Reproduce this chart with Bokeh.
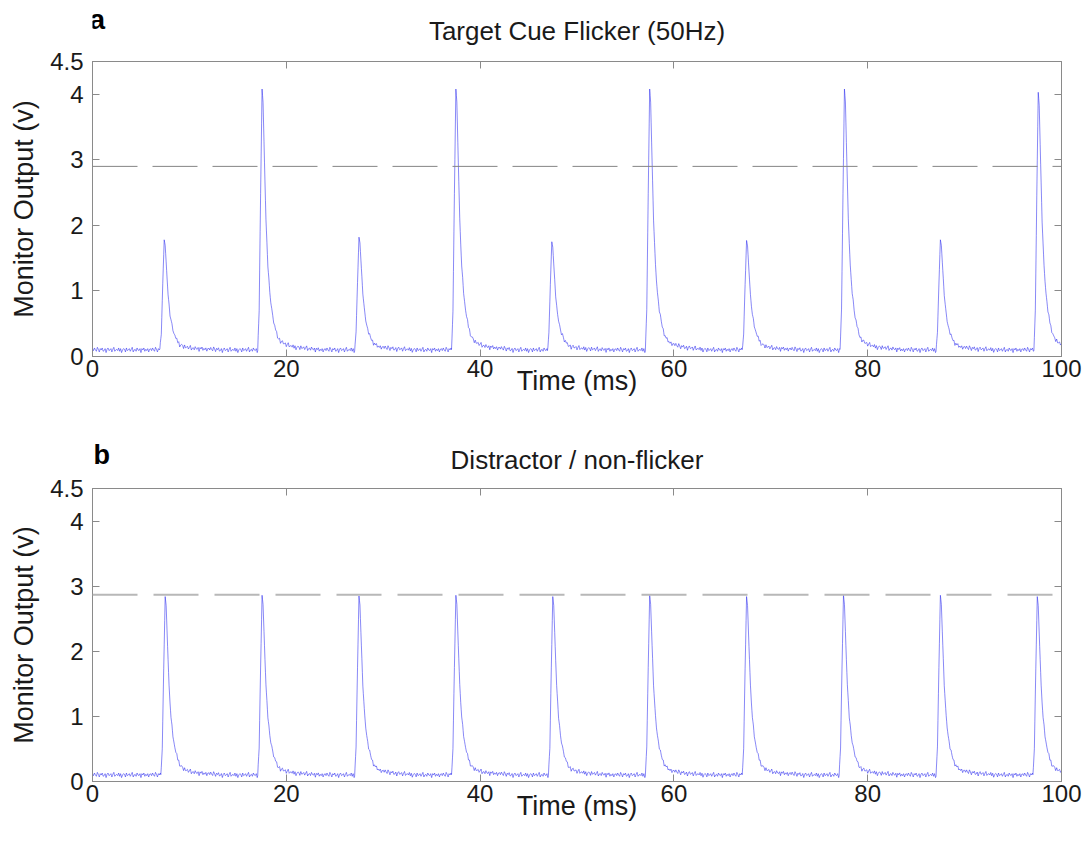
import numpy as np
from bokeh.plotting import figure
from bokeh.models import Span, Label, LinearAxis, FixedTicker, Range1d
from bokeh.layouts import column
from bokeh.embed import file_html
from bokeh.resources import INLINE

# ---- data ----
x_ticks = [0, 20, 40, 60, 80, 100]
y_ticks = [0, 1, 2, 3, 4, 4.5]

peak_times_a = [7.4, 17.5, 27.5, 37.5, 47.4, 57.5, 67.5, 77.6, 87.5, 97.6]
peak_heights_a = [1.78, 4.08, 1.82, 4.08, 1.75, 4.08, 1.77, 4.08, 1.78, 4.03]
peak_times_b = [7.5, 17.5, 27.5, 37.5, 47.5, 57.5, 67.5, 77.5, 87.5, 97.5]
peak_heights_b = [2.84, 2.86, 2.85, 2.86, 2.84, 2.86, 2.84, 2.86, 2.86, 2.84]

threshold_a = 2.9
threshold_b = 2.87
baseline_level = 0.1

# pulse profile (ms from apex, fraction of pulse amplitude)
pulse_dt = [-0.45, -0.3, -0.15, 0.0, 0.1, 0.25, 0.4, 0.6, 0.8, 1.0, 1.3, 1.6, 2.0, 2.5, 3.2, 4.5, 6.0]
pulse_rel = [0.0, 0.15, 0.6, 1.0, 0.95, 0.72, 0.5, 0.32, 0.22, 0.15, 0.09, 0.05, 0.03, 0.02, 0.012, 0.006, 0.0]

# baseline ripple (V), 0.1 ms apart
baseline_noise = [0.02, -0.01, 0.03, 0.00, -0.02, 0.04, 0.01, -0.03, 0.02, 0.00,
                  0.03, -0.02, -0.01, 0.02, -0.04, 0.01, 0.03, -0.01, 0.00, 0.02,
                  -0.03, 0.01, 0.04, -0.02, 0.00, 0.01, -0.01, 0.03, -0.02, 0.02,
                  -0.04, 0.00, 0.02, 0.01, -0.03, 0.03, -0.01, 0.00, 0.02, -0.02,
                  0.01, 0.04, -0.03, 0.00, 0.01, -0.02, 0.03, 0.00, -0.01, 0.02,
                  -0.04, 0.02, 0.00, 0.03, -0.02, 0.01, -0.01, 0.02, -0.03, 0.01]

FONT = "Liberation Sans"
AXIS_COL = "#8a8a8a"
TEXT_COL = "#1a1a1a"
W = 1090
LEFT, RIGHT = 92, 29

t = np.round(np.arange(0, 100.0001, 0.05), 3)
noise_t = np.arange(len(baseline_noise)) * 0.1
cycle = len(baseline_noise) * 0.1


def trace(times, heights):
    rel_total = np.zeros_like(t)
    pulses = np.zeros_like(t)
    for t0, h in zip(times, heights):
        rel = np.interp(t - t0, pulse_dt, pulse_rel, left=0.0, right=0.0)
        pulses += (h - baseline_level) * rel
        rel_total = np.maximum(rel_total, rel)
    ripple = np.interp(t % cycle, noise_t, baseline_noise)
    return baseline_level + ripple * (1 - rel_total) + pulses


def header(letter, title, height, letter_dx, letter_base, title_base, letter_size):
    h = figure(width=W, height=height, x_range=Range1d(0, 100), y_range=Range1d(0, height),
               x_axis_type=None, y_axis_type=None, output_backend="svg",
               toolbar_location=None, min_border=0, title=None,
               min_border_left=LEFT, min_border_right=RIGHT)
    h.xgrid.visible = False
    h.ygrid.visible = False
    h.outline_line_color = None
    h.add_layout(Label(x=0, y=height - letter_base, text=letter, x_offset=letter_dx,
                       text_font=FONT, text_font_size=letter_size, text_font_style="bold",
                       text_color="black", text_baseline="alphabetic", text_align="left"))
    h.add_layout(Label(x=50, y=height - title_base, text=title,
                       text_font=FONT, text_font_size="26px", text_font_style="normal",
                       text_color=TEXT_COL, text_baseline="alphabetic", text_align="center"))
    return h


def panel(times, heights, thr, thr_color, thr_width, thr_dash, height, top, bottom):
    p = figure(width=W, height=height, x_range=Range1d(0, 100), y_range=Range1d(0, 4.5),
               output_backend="svg", toolbar_location=None, title=None,
               min_border_left=LEFT, min_border_right=RIGHT,
               min_border_top=top, min_border_bottom=bottom)
    p.xgrid.visible = False
    p.ygrid.visible = False
    p.outline_line_color = AXIS_COL

    for ax in (p.xaxis[0], p.yaxis[0]):
        ax.axis_line_color = AXIS_COL
        ax.major_tick_line_color = AXIS_COL
        ax.major_tick_in = 7
        ax.major_tick_out = 0
        ax.minor_tick_line_color = None
        ax.major_label_text_font = FONT
        ax.major_label_text_font_size = "24px"
        ax.major_label_text_color = TEXT_COL
        ax.axis_label_text_font = FONT
        ax.axis_label_text_font_size = "27px"
        ax.axis_label_text_font_style = "normal"
        ax.axis_label_text_color = TEXT_COL
    p.xaxis[0].ticker = FixedTicker(ticks=x_ticks)
    p.yaxis[0].ticker = FixedTicker(ticks=y_ticks)
    p.yaxis[0].major_label_overrides = {0: "0", 1: "1", 2: "2", 3: "3", 4: "4", 4.5: "4.5"}
    p.xaxis[0].axis_label = "Time (ms)"
    p.yaxis[0].axis_label = "Monitor Output (v)"
    p.xaxis[0].major_label_standoff = 3
    p.xaxis[0].axis_label_standoff = -14
    p.yaxis[0].major_label_standoff = 9
    p.yaxis[0].axis_label_standoff = 8

    # tick-only mirror axes (box style), no labels drawn
    for side, ticks in (("above", x_ticks), ("right", y_ticks[:-1])):
        ax = LinearAxis(ticker=FixedTicker(ticks=ticks))
        ax.axis_line_color = AXIS_COL
        ax.major_tick_line_color = AXIS_COL
        ax.major_tick_in = 7
        ax.major_tick_out = 0
        ax.minor_tick_line_color = None
        ax.major_label_text_font_size = "1px"
        ax.major_label_text_color = None
        ax.major_label_standoff = 0
        p.add_layout(ax, side)

    p.add_layout(Span(location=thr, dimension="width", line_color=thr_color,
                      line_width=thr_width, line_dash=thr_dash))
    p.line(t, trace(times, heights), line_color="#2a2aee", line_alpha=0.62, line_width=0.9)
    return p


ha = header("a", "Target Cue Flicker (50Hz)", 47, -3, 19, 30, "28px")
pa = panel(peak_times_a, peak_heights_a, threshold_a, "#858585", 1, "45 15", 385, 14, 76)
hb = header("b", "Distractor / non-flicker", 44, 1, 22, 27, "27px")
pb = panel(peak_times_b, peak_heights_b, threshold_b, "#b8b8b8", 2, "45 16", 369, 12, 64)

layout = column(ha, pa, hb, pb, spacing=0)
open("out.html", "w").write(file_html(layout, INLINE))
